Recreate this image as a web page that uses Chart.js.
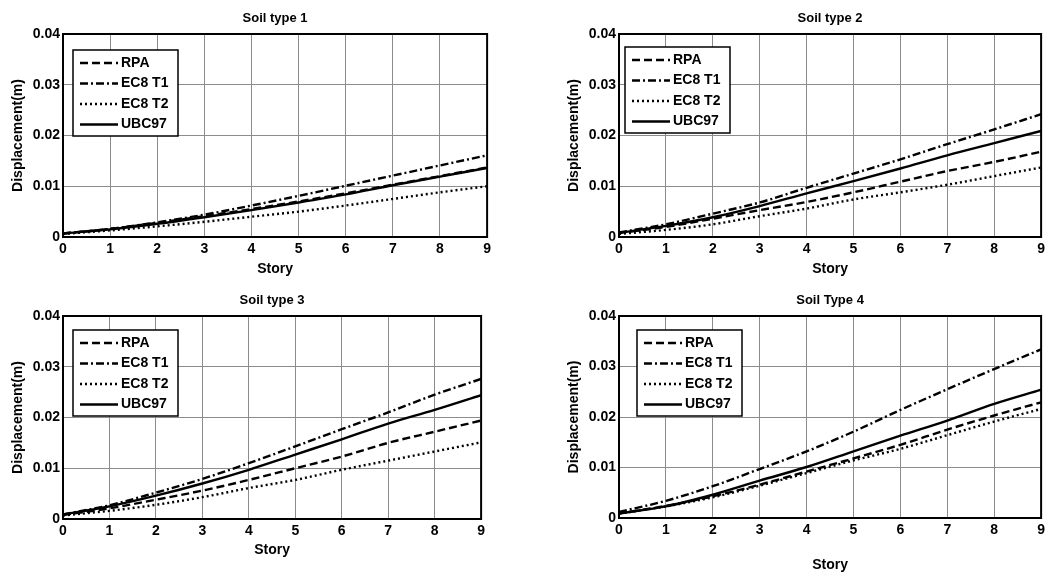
<!DOCTYPE html>
<html>
<head>
<meta charset="utf-8">
<script src="https://cdn.jsdelivr.net/npm/chart.js@4.4.0/dist/chart.umd.min.js"></script>
<style>
body { margin: 0; background: #fff; width: 1046px; height: 574px; position: relative; overflow: hidden; }
canvas { position: absolute; }
</style>
</head>
<body>
<canvas id="c1" width="495" height="279" style="left:0;top:0"></canvas>
<canvas id="c2" width="493" height="279" style="left:556px;top:0"></canvas>
<canvas id="c3" width="489" height="279" style="left:0;top:282px"></canvas>
<canvas id="c4" width="493" height="292" style="left:556px;top:282px"></canvas>
<script>
// story numbers (x axis)
var stories = [0, 1, 2, 3, 4, 5, 6, 7, 8, 9];
var yTicks = [0, 0.01, 0.02, 0.03, 0.04];
var seriesNames = ['RPA', 'EC8 T1', 'EC8 T2', 'UBC97'];

// Soil type 1
var soil1Rpa = [0.0007, 0.0016, 0.0028, 0.0041, 0.0055, 0.0070, 0.0086, 0.0103, 0.0120, 0.0137];
var soil1Ec8t1 = [0.0007, 0.0016, 0.0029, 0.0044, 0.0062, 0.0081, 0.0101, 0.0121, 0.0141, 0.0161];
var soil1Ec8t2 = [0.0006, 0.0013, 0.0021, 0.0030, 0.0040, 0.0050, 0.0062, 0.0075, 0.0088, 0.0100];
var soil1Ubc = [0.0007, 0.0015, 0.0026, 0.0039, 0.0053, 0.0068, 0.0084, 0.0102, 0.0119, 0.0136];

// Soil type 2
var soil2Rpa = [0.0008, 0.0020, 0.0036, 0.0053, 0.0069, 0.0088, 0.0109, 0.0130, 0.0148, 0.0168];
var soil2Ec8t1 = [0.0009, 0.0025, 0.0046, 0.0068, 0.0097, 0.0125, 0.0153, 0.0183, 0.0212, 0.0242];
var soil2Ec8t2 = [0.0006, 0.0014, 0.0025, 0.0041, 0.0056, 0.0074, 0.0088, 0.0103, 0.0120, 0.0137];
var soil2Ubc = [0.0008, 0.0022, 0.0039, 0.0061, 0.0086, 0.0110, 0.0135, 0.0161, 0.0185, 0.0209];

// Soil type 3
var soil3Rpa = [0.0008, 0.0021, 0.0038, 0.0056, 0.0077, 0.0100, 0.0123, 0.0150, 0.0172, 0.0194];
var soil3Ec8t1 = [0.0009, 0.0027, 0.0052, 0.0079, 0.0110, 0.0143, 0.0177, 0.0210, 0.0245, 0.0276];
var soil3Ec8t2 = [0.0007, 0.0016, 0.0028, 0.0043, 0.0061, 0.0077, 0.0097, 0.0115, 0.0133, 0.0151];
var soil3Ubc = [0.0009, 0.0025, 0.0046, 0.0070, 0.0097, 0.0127, 0.0157, 0.0188, 0.0215, 0.0244];

// Soil type 4
var soil4Rpa = [0.0009, 0.0024, 0.0043, 0.0066, 0.0092, 0.0118, 0.0145, 0.0175, 0.0203, 0.0229];
var soil4Ec8t1 = [0.0012, 0.0034, 0.0063, 0.0097, 0.0132, 0.0171, 0.0214, 0.0255, 0.0295, 0.0334];
var soil4Ec8t2 = [0.0009, 0.0023, 0.0041, 0.0064, 0.0089, 0.0114, 0.0137, 0.0164, 0.0191, 0.0216];
var soil4Ubc = [0.0009, 0.0023, 0.0046, 0.0074, 0.0101, 0.0132, 0.0163, 0.0193, 0.0226, 0.0254];

var dashes = [[8, 4], [8, 3, 2, 3], [2, 3], []];
var fontFam = '"Liberation Sans", Arial, sans-serif';

// box round the plot + the boxed legend in the upper left corner
var frameLegend = {
    id: 'frameLegend',
    afterDatasetsDraw: function (chart, args, opts) {
        var a = chart.chartArea;
        var ctx = chart.ctx;
        ctx.save();
        ctx.strokeStyle = '#000';
        ctx.lineWidth = 2;
        ctx.strokeRect(a.left, a.top, a.right - a.left, a.bottom - a.top);

        var x = a.left + opts.dx, y = a.top + opts.dy;
        ctx.fillStyle = '#fff';
        ctx.fillRect(x, y, 105, 86);
        ctx.lineWidth = 1.5;
        ctx.strokeRect(x, y, 105, 86);
        chart.data.datasets.forEach(function (ds, i) {
            var yy = y + 13 + i * 20.5;
            ctx.setLineDash(ds.borderDash || []);
            ctx.lineWidth = 2.5;
            ctx.beginPath();
            ctx.moveTo(x + 7, yy);
            ctx.lineTo(x + 45, yy);
            ctx.stroke();
            ctx.setLineDash([]);
            ctx.fillStyle = '#000';
            ctx.font = 'bold 14px ' + fontFam;
            ctx.textBaseline = 'middle';
            ctx.fillText(ds.label, x + 48, yy);
        });
        ctx.restore();
    }
};

function makeChart(id, title, values, xAxisH, xTitlePad, legendPos) {
    var datasets = [];
    for (var i = 0; i < values.length; i++) {
        var pts = [];
        for (var j = 0; j < stories.length; j++) {
            pts.push({x: stories[j], y: values[i][j]});
        }
        datasets.push({
            label: seriesNames[i],
            data: pts,
            borderColor: '#000',
            borderWidth: 2.4,
            borderDash: dashes[i],
            pointRadius: 0,
            cubicInterpolationMode: 'monotone',
            fill: false
        });
    }
    var tickFont = {family: fontFam, size: 14, weight: 'bold'};
    return new Chart(document.getElementById(id), {
        type: 'line',
        data: {datasets: datasets},
        plugins: [frameLegend],
        options: {
            responsive: false,
            animation: false,
            devicePixelRatio: 1,
            layout: {padding: {left: 0, right: 0, top: 0, bottom: 0}},
            plugins: {
                legend: {display: false},
                tooltip: {enabled: false},
                title: {
                    display: true,
                    text: title,
                    color: '#000',
                    fullSize: false,
                    font: {family: fontFam, size: 13, weight: 'bold'},
                    padding: {top: 10.2, bottom: 8.2}
                },
                frameLegend: legendPos
            },
            scales: {
                x: {
                    type: 'linear',
                    min: 0,
                    max: 9,
                    afterFit: function (s) { s.height = xAxisH; },
                    ticks: {stepSize: 1, color: '#000', font: tickFont, padding: 4, maxRotation: 0},
                    grid: {color: '#8c8c8c', drawTicks: false},
                    border: {color: '#000', width: 2},
                    title: {display: true, text: 'Story', color: '#000', font: tickFont,
                        padding: {top: 0, bottom: xTitlePad}}
                },
                y: {
                    min: 0,
                    max: 0.04,
                    afterFit: function (s) { s.width = 63; },
                    afterBuildTicks: function (s) {
                        s.ticks = yTicks.map(function (v) { return {value: v}; });
                    },
                    ticks: {
                        color: '#000', font: tickFont, padding: 3,
                        callback: function (v) { return v === 0 ? '0' : v.toFixed(2); }
                    },
                    grid: {color: '#8c8c8c', drawTicks: false},
                    border: {color: '#000', width: 2},
                    title: {display: true, text: 'Displacement(m)', color: '#000', font: tickFont,
                        padding: {top: 9.6, bottom: 0}}
                }
            }
        }
    });
}

makeChart('c1', 'Soil type 1', [soil1Rpa, soil1Ec8t1, soil1Ec8t2, soil1Ubc], 42, 1.6, {dx: 10, dy: 16});
makeChart('c2', 'Soil type 2', [soil2Rpa, soil2Ec8t1, soil2Ec8t2, soil2Ubc], 42, 1.6, {dx: 6, dy: 13});
makeChart('c3', 'Soil type 3', [soil3Rpa, soil3Ec8t1, soil3Ec8t2, soil3Ubc], 42, 2.6, {dx: 10, dy: 14});
makeChart('c4', 'Soil Type 4', [soil4Rpa, soil4Ec8t1, soil4Ec8t2, soil4Ubc], 56, 0.6, {dx: 18, dy: 14});
</script>
</body>
</html>
